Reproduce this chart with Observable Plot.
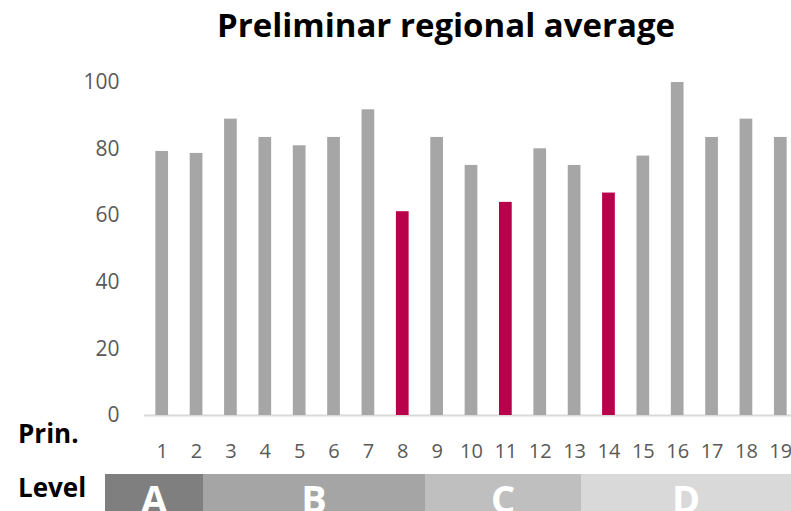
<!DOCTYPE html>
<html>
<head>
<meta charset="utf-8">
<script src="https://cdn.jsdelivr.net/npm/d3@7"></script>
<script src="https://cdn.jsdelivr.net/npm/@observablehq/plot@0.6"></script>
<style>
  body { margin: 0; background: #fff; overflow: hidden; }
  #chart { position: relative; width: 791px; height: 511px; overflow: hidden; font-family: "Open Sans", sans-serif; }
  #plot { position: absolute; left: 0; top: 56px; }
  #overlay { position: absolute; left: 0; top: 0; }
</style>
</head>
<body>
<div id="chart">
  <div id="plot"></div>
  <svg id="overlay" width="791" height="511"></svg>
</div>
<script>
// Principles 1–19 and their preliminary regional averages
const principles = d3.range(1, 20);
const averages = [79.3, 78.7, 89, 83.5, 81, 83.5, 91.8, 61.2, 83.5, 75.1, 64, 80.1, 75.1, 66.8, 77.9, 100, 83.5, 89, 83.5];
// Principles flagged as below the regional threshold
const flagged = [8, 11, 14];
const yTicks = [0, 20, 40, 60, 80, 100];

// Level groups shown beneath the principles
const levels = ["A", "B", "C", "D"];
const levelColors = ["#7f7f7f", "#a5a5a5", "#bfbfbf", "#d9d9d9"];
const levelEdges = [105, 203, 425, 581, 791];

const data = principles.map((p, i) => ({ principle: p, value: averages[i], flagged: flagged.includes(p) }));

const plot = Plot.plot({
  width: 791,
  height: 410,
  marginTop: 26,
  marginBottom: 51,
  marginLeft: 144,
  marginRight: 0,
  style: { fontFamily: "Open Sans, sans-serif", fontSize: "21px", color: "#595959", background: "transparent" },
  x: { domain: principles, range: [144, 798], paddingInner: 0.63, paddingOuter: 0.33, round: false },
  y: { domain: [0, 100] },
  marks: [
    Plot.ruleY([0], { stroke: "#d9d9d9", strokeWidth: 2 }),
    Plot.barY(data, {
      x: "principle",
      y: "value",
      fill: d => d.flagged ? "#b8004b" : "#a6a6a6"
    }),
    Plot.axisY({ ticks: yTicks, tickSize: 0, tickPadding: 25, label: null }),
    Plot.axisX({ tickSize: 0, tickPadding: 28, label: null, fontSize: 20 })
  ]
});
document.getElementById("plot").appendChild(plot);

const svg = d3.select("#overlay").style("font-family", "Open Sans, sans-serif");

svg.append("text")
  .attr("x", 446).attr("y", 37)
  .attr("text-anchor", "middle")
  .attr("font-size", 33).attr("font-weight", 700).attr("fill", "#000")
  .text("Preliminar regional average");

svg.append("text")
  .attr("x", 18).attr("y", 443)
  .attr("font-size", 26).attr("font-weight", 700).attr("fill", "#000")
  .text("Prin.");

svg.append("text")
  .attr("x", 18).attr("y", 497)
  .attr("font-size", 26).attr("font-weight", 700).attr("fill", "#000")
  .text("Level");

const strip = svg.append("g");
levels.forEach((lv, i) => {
  const x0 = levelEdges[i], x1 = levelEdges[i + 1];
  strip.append("rect")
    .attr("x", x0).attr("y", 474).attr("width", x1 - x0).attr("height", 40)
    .attr("fill", levelColors[i]);
  strip.append("text")
    .attr("x", (x0 + x1) / 2).attr("y", 513)
    .attr("text-anchor", "middle")
    .attr("font-size", 38).attr("font-weight", 700).attr("fill", "#fff")
    .text(lv);
});
</script>
</body>
</html>
